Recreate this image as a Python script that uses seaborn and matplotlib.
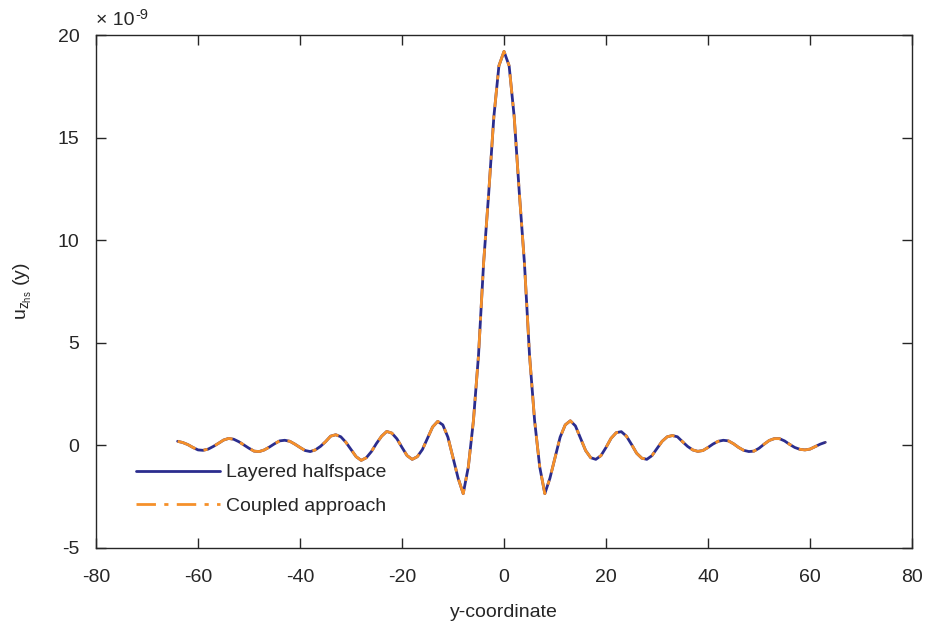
import numpy as np
import pandas as pd
import seaborn as sns
import matplotlib
matplotlib.use("Agg")
import matplotlib.pyplot as plt
from matplotlib.transforms import offset_copy

# ---- data (u_z in units of 1e-9) ----
y_coord = list(range(-64, 64))
uz_layered = [
    0.20, 0.14, 0.04, -0.10, -0.22, -0.24, -0.18, -0.05,   # -64..-57
    0.10, 0.26, 0.34, 0.30, 0.18, 0.02, -0.14, -0.28,      # -56..-49
    -0.30, -0.22, -0.08, 0.08, 0.22, 0.25, 0.20, 0.06,     # -48..-41
    -0.10, -0.25, -0.30, -0.22, -0.05, 0.18, 0.45, 0.52,   # -40..-33
    0.42, 0.15, -0.20, -0.55, -0.73, -0.60, -0.30, 0.10,   # -32..-25
    0.45, 0.68, 0.60, 0.32, -0.10, -0.50, -0.68, -0.55,    # -24..-17
    -0.20, 0.35, 0.90, 1.17, 1.00, 0.40, -0.60, -1.60,     # -16..-9
    -2.35, -1.05, 1.20, 4.40, 8.90, 12.30, 16.00, 18.50,   # -8..-1
    19.20, 18.50, 16.00, 12.30, 8.90, 4.40, 1.20, -1.05,   # 0..7
    -2.35, -1.60, -0.60, 0.40, 1.00, 1.20, 0.95, 0.35,     # 8..15
    -0.25, -0.60, -0.68, -0.50, -0.10, 0.35, 0.62, 0.67,   # 16..23
    0.45, 0.05, -0.38, -0.62, -0.68, -0.50, -0.15, 0.20,   # 24..31
    0.42, 0.48, 0.42, 0.18, -0.05, -0.22, -0.29, -0.25,    # 32..39
    -0.10, 0.07, 0.20, 0.25, 0.22, 0.08, -0.10, -0.24,     # 40..47
    -0.30, -0.28, -0.14, 0.06, 0.24, 0.33, 0.33, 0.22,     # 48..55
    0.05, -0.10, -0.19, -0.22, -0.18, -0.06, 0.06, 0.15,   # 56..63
]
uz_coupled = list(uz_layered)

x_ticks = [-80, -60, -40, -20, 0, 20, 40, 60, 80]
y_ticks = [-5, 0, 5, 10, 15, 20]
label_layered = "Layered halfspace"
label_coupled = "Coupled approach"
scale_base = "\u00d7 10"
scale_exp = "-9"

# ---- styling ----
sns.set_style("white")
plt.rcParams["font.family"] = ["Liberation Sans", "DejaVu Sans"]
plt.rcParams["mathtext.default"] = "regular"
plt.rcParams["axes.unicode_minus"] = False

text_col = "#262626"
fs = 14
fig = plt.figure(figsize=(9.26, 6.25), dpi=100)
ax = fig.add_axes([0.1037, 0.1232, 0.8812, 0.8208])

df = pd.DataFrame({"y": y_coord, "layered": uz_layered, "coupled": uz_coupled})

sns.lineplot(data=df, x="y", y="layered", ax=ax, color="#2b2d8e",
             linewidth=2.0, label=label_layered)
sns.lineplot(data=df, x="y", y="coupled", ax=ax, color="#f5902a",
             linewidth=2.0, label=label_coupled)
ax.lines[1].set_dashes([7, 3, 1.5, 3])

ax.set_xlim(-80, 80)
ax.set_ylim(-5, 20)
ax.set_xticks(x_ticks)
ax.set_yticks(y_ticks)
ax.set_xticklabels([str(v) for v in x_ticks])
ax.set_yticklabels([str(v) for v in y_ticks])

ax.tick_params(direction="in", length=7, width=1, colors=text_col,
               labelsize=fs, top=True, right=True, bottom=True, left=True)
ax.tick_params(axis="x", pad=15)
ax.tick_params(axis="y", pad=12)
for s in ax.spines.values():
    s.set_color(text_col)
    s.set_linewidth(1.0)

# scale factor text (MATLAB-style exponent label)
ax.text(0.0, 1.012, scale_base, transform=ax.transAxes, ha="left", va="bottom",
        fontsize=fs, color=text_col)
ax.text(0.0, 1.012, scale_exp,
        transform=offset_copy(ax.transAxes, fig=fig, x=28, y=5, units="points"),
        ha="left", va="bottom", fontsize=10.5, color=text_col)

ax.set_xlabel("y-coordinate", fontsize=fs, color=text_col, labelpad=13)
ax.set_ylabel(r"u$_{z_{hs}}$ (y)", fontsize=fs, color=text_col, labelpad=17)

leg = ax.legend(loc="lower left", bbox_to_anchor=(0.04, 0.05), frameon=False,
                fontsize=fs, handlelength=4.3, handletextpad=0.3,
                labelspacing=0.8, borderaxespad=0)
for t in leg.get_texts():
    t.set_color(text_col)

fig.savefig("out.png", dpi=100)
